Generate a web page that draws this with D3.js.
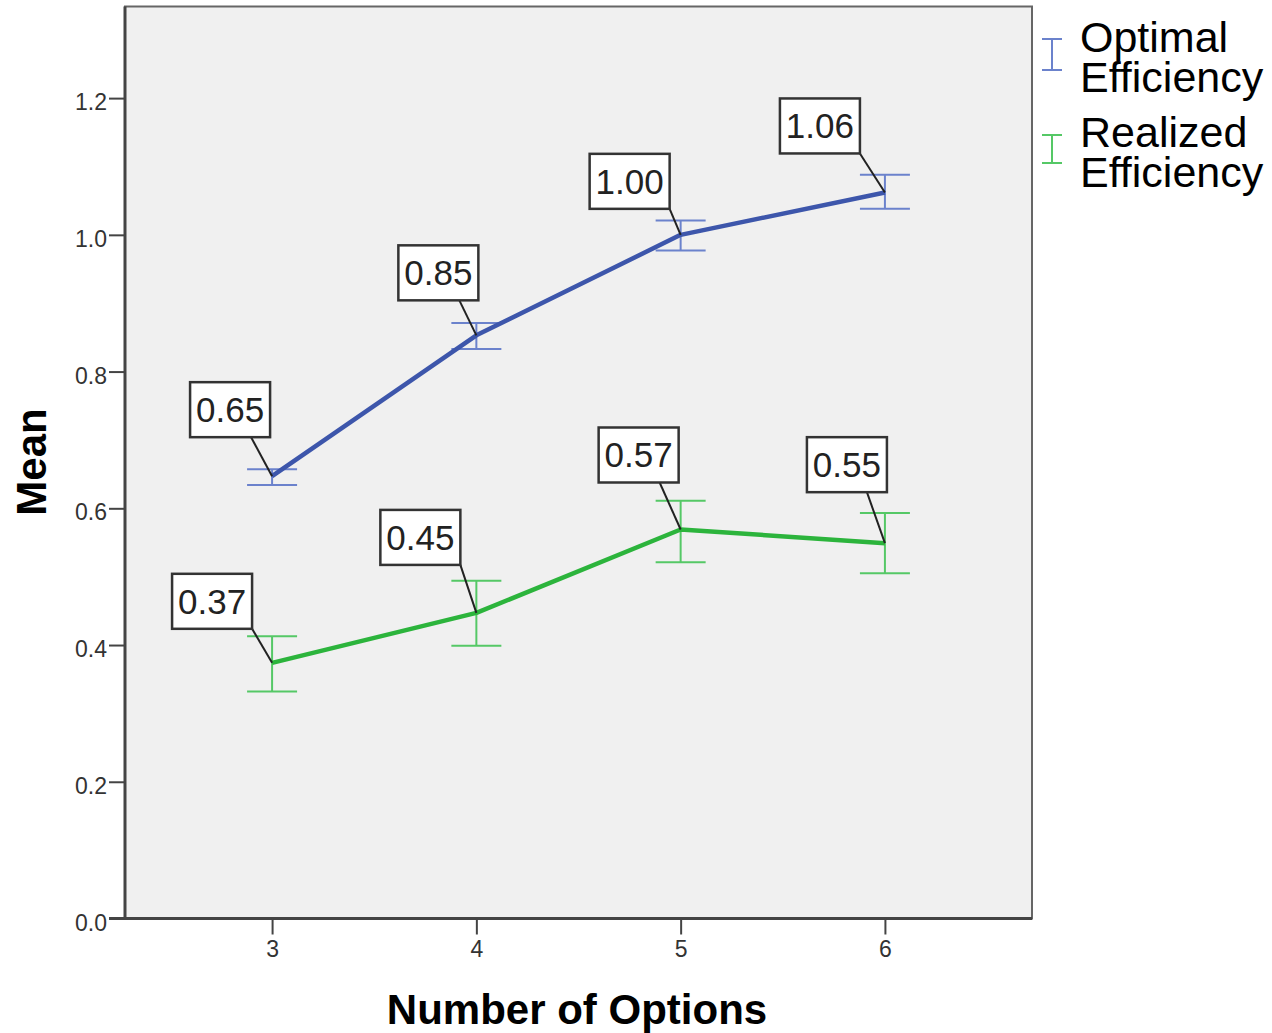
<!DOCTYPE html>
<html><head><meta charset="utf-8">
<script src="https://cdn.jsdelivr.net/npm/d3@7"></script>
<style>body{margin:0;background:#fff}svg{display:block}</style>
</head><body>
<svg id="chart" width="1272" height="1033"></svg>
<script>
const categories = [3, 4, 5, 6];
const optimalMean = [0.647, 0.853, 1.000, 1.062];
const optimalLow  = [0.634, 0.833, 0.977, 1.038];
const optimalHigh = [0.657, 0.871, 1.021, 1.088];
const realizedMean = [0.374, 0.447, 0.569, 0.549];
const realizedLow  = [0.332, 0.399, 0.521, 0.505];
const realizedHigh = [0.413, 0.494, 0.611, 0.593];
const optimalLabels = ["0.65", "0.85", "1.00", "1.06"];
const realizedLabels = ["0.37", "0.45", "0.57", "0.55"];
const yTicks = [0, 0.2, 0.4, 0.6, 0.8, 1.0, 1.2];
const seriesNames = [["Optimal", "Efficiency"], ["Realized", "Efficiency"]];

// layout: label box bottom-right offset from point (px), leader start inset from box right
const optimalLabelPos = [[-2,-39,19],[2,-35,19],[-11,-26,0],[-25,-39,0]];
const realizedLabelPos = [[-20,-34,0],[-16,-48,0],[-2,-47,19],[2,-51,20]];

const svg = d3.select("#chart");
const L = 125, R = 1032, T = 6.5, B = 918.5;
const x = d3.scaleLinear().domain([2.28, 6.72]).range([L, R]);
const y = d3.scaleLinear().domain([0, 1.334]).range([B, T]);
const font = "'Liberation Sans', Arial, sans-serif";

svg.append("rect").attr("x", L).attr("y", T).attr("width", R - L).attr("height", B - T)
  .attr("fill", "#f0f0f0").attr("stroke", "#666").attr("stroke-width", 2);

// axes
const yAxis = svg.append("g").attr("transform", `translate(${L},0)`)
  .call(d3.axisLeft(y).tickValues(yTicks).tickFormat(d3.format(".1f")).tickSize(16).tickPadding(2));
const xAxis = svg.append("g").attr("transform", `translate(0,${B})`)
  .call(d3.axisBottom(x).tickValues(categories).tickFormat(d3.format("d")).tickSize(16).tickPadding(6));
[yAxis, xAxis].forEach(g => {
  g.select(".domain").attr("stroke", "#444").attr("stroke-width", 3);
  g.selectAll(".tick line").attr("stroke", "#444").attr("stroke-width", 2);
  g.selectAll(".tick text").attr("fill", "#333").style("font-family", font).style("font-size", "23px");
});
yAxis.selectAll(".tick text").attr("dy", "0.5em");
yAxis.select(".domain").attr("d", `M0,${B + 1}V${T}`);
xAxis.select(".domain").attr("d", `M${L - 16},0H${R}`);

// axis titles
svg.append("text").attr("x", 577).attr("y", 1024).attr("text-anchor", "middle")
  .style("font-family", font).style("font-weight", "bold").style("font-size", "42px").text("Number of Options");
svg.append("text").attr("transform", "translate(46,462) rotate(-90)").attr("text-anchor", "middle")
  .style("font-family", font).style("font-weight", "bold").style("font-size", "42px").text("Mean");

const series = [
  {mean: optimalMean, low: optimalLow, high: optimalHigh, labels: optimalLabels, pos: optimalLabelPos, line: "#3d56ab", err: "#6b82cc"},
  {mean: realizedMean, low: realizedLow, high: realizedHigh, labels: realizedLabels, pos: realizedLabelPos, line: "#2cb43c", err: "#55c866"}
];

const lineGen = d3.line().x((d, i) => x(categories[i])).y(d => y(d));
series.forEach(s => {
  const g = svg.append("g");
  categories.forEach((c, i) => {
    const cx = x(c);
    g.append("line").attr("x1", cx).attr("x2", cx).attr("y1", y(s.low[i])).attr("y2", y(s.high[i]))
      .attr("stroke", s.err).attr("stroke-width", 2);
    [s.low[i], s.high[i]].forEach(v => {
      g.append("line").attr("x1", cx - 25).attr("x2", cx + 25).attr("y1", y(v)).attr("y2", y(v))
        .attr("stroke", s.err).attr("stroke-width", 2);
    });
  });
  g.append("path").datum(s.mean).attr("d", lineGen).attr("fill", "none")
    .attr("stroke", s.line).attr("stroke-width", 4.5).attr("stroke-linejoin", "round");
});

// labels
series.forEach(s => {
  categories.forEach((c, i) => {
    const px = x(c), py = y(s.mean[i]);
    const [dx, dy, inset] = s.pos[i];
    const right = px + dx, bottom = py + dy;
    const w = 80, h = 55;
    svg.append("line").attr("x1", right - inset).attr("y1", bottom).attr("x2", px).attr("y2", py)
      .attr("stroke", "#222").attr("stroke-width", 2);
    svg.append("rect").attr("x", right - w).attr("y", bottom - h).attr("width", w).attr("height", h)
      .attr("fill", "#fff").attr("stroke", "#333").attr("stroke-width", 2.5);
    svg.append("text").attr("x", right - w / 2).attr("y", bottom - 15).attr("text-anchor", "middle")
      .attr("fill", "#222").style("font-family", font).style("font-size", "35px").text(s.labels[i]);
  });
});

// legend
const legY = [[39, 70, 52, 92], [135, 163, 147, 187]];
series.forEach((s, k) => {
  const [t, b, b1, b2] = legY[k];
  const cx = 1052;
  const g = svg.append("g");
  g.append("line").attr("x1", cx).attr("x2", cx).attr("y1", t).attr("y2", b).attr("stroke", s.err).attr("stroke-width", 2);
  [t, b].forEach(v => g.append("line").attr("x1", cx - 10).attr("x2", cx + 10).attr("y1", v).attr("y2", v)
    .attr("stroke", s.err).attr("stroke-width", 2));
  [b1, b2].forEach((bl, j) => g.append("text").attr("x", 1080).attr("y", bl)
    .style("font-family", font).style("font-size", "43px").attr("fill", "#000").text(seriesNames[k][j]));
});
</script>
</body></html>
